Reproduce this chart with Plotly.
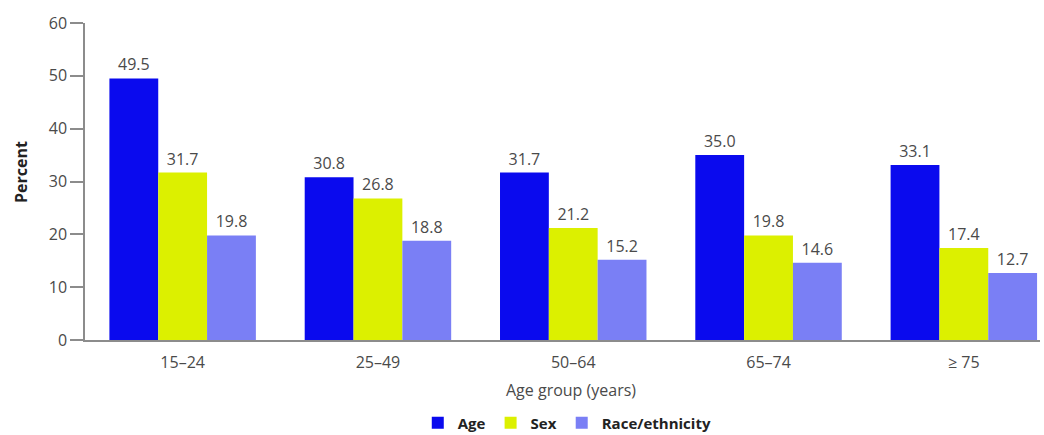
import plotly.graph_objects as go

# Age groups on the x axis
age_groups = ["15–24", "25–49", "50–64", "65–74", "≥ 75"]

# Percent values for each series
age_pct = [49.5, 30.8, 31.7, 35.0, 33.1]
sex_pct = [31.7, 26.8, 21.2, 19.8, 17.4]
race_pct = [19.8, 18.8, 15.2, 14.6, 12.7]

y_ticks = [0, 10, 20, 30, 40, 50, 60]

FONT = "Open Sans"
TEXT_GREY = "#4a4a4a"
AXIS_GREY = "#8c8c8c"

series = [
    ("Age", age_pct, "#0a0aee"),
    ("Sex", sex_pct, "#dcf000"),
    ("Race/ethnicity", race_pct, "#7a7ff5"),
]

fig = go.Figure()
for name, vals, color in series:
    fig.add_trace(go.Bar(
        x=age_groups,
        y=vals,
        name=name,
        marker=dict(color=color, line=dict(width=0)),
        text=[f"{v:.1f}" for v in vals],
        textposition="outside",
        textfont=dict(family=FONT, size=16, color=TEXT_GREY),
        cliponaxis=False,
    ))

fig.update_layout(
    width=1044,
    height=435,
    margin=dict(l=85, r=4, t=23, b=95, autoexpand=False),
    paper_bgcolor="white",
    plot_bgcolor="white",
    barmode="group",
    bargap=0.25,
    bargroupgap=0,
    font=dict(family=FONT, color=TEXT_GREY),
    showlegend=True,
    legend=dict(
        orientation="h",
        x=0.505,
        xanchor="center",
        y=-0.262,
        yanchor="middle",
        font=dict(family=FONT, size=15, color="#222222", weight="bold"),
        itemwidth=30,
        traceorder="normal",
    ),
    xaxis=dict(
        type="category",
        range=[-0.5, 4.39],
        showline=True,
        linecolor=AXIS_GREY,
        linewidth=1.5,
        ticks="",
        showgrid=False,
        tickfont=dict(family=FONT, size=16, color=TEXT_GREY),
        ticklabelstandoff=7,
    ),
    yaxis=dict(
        range=[0, 60],
        tickvals=y_ticks,
        showline=True,
        linecolor=AXIS_GREY,
        linewidth=1.5,
        ticks="outside",
        ticklen=13,
        tickcolor=AXIS_GREY,
        tickwidth=1.5,
        showgrid=False,
        zeroline=False,
        tickfont=dict(family=FONT, size=16, color=TEXT_GREY),
    ),
    annotations=[
        dict(
            text="Age group (years)",
            xref="paper", yref="paper",
            x=0.509, y=-0.158,
            xanchor="center", yanchor="middle",
            showarrow=False,
            font=dict(family=FONT, size=16, color=TEXT_GREY),
        ),
        dict(
            text="<b>Percent</b>",
            xref="paper", yref="paper",
            x=-0.067, y=0.53,
            xanchor="center", yanchor="middle",
            textangle=-90,
            showarrow=False,
            font=dict(family=FONT, size=16, color="#222222"),
        ),
    ],
)

fig.write_html("out.html")
